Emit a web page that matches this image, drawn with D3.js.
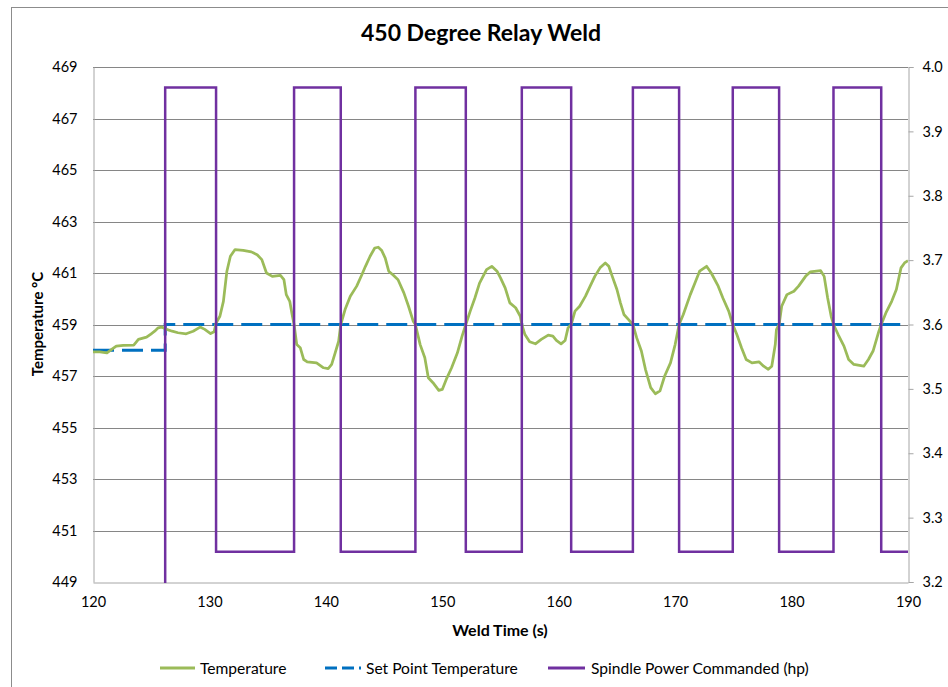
<!DOCTYPE html>
<html><head><meta charset="utf-8">
<script src="https://cdn.jsdelivr.net/npm/d3@7"></script>
<style>
body{margin:0;background:#fff;}
text{font-family:Lato,"Open Sans",sans-serif;fill:#000;}
</style></head>
<body><svg id="c" width="948" height="687"></svg>
<script>
// ---- data ----
const tempTime = [120.0,120.6,121.2,121.6,122.0,122.6,123.5,123.9,124.6,125.0,125.3,125.6,125.9,126.2,126.8,127.3,128.0,128.6,129.2,129.6,130.1,130.4,130.57,130.9,131.2,131.5,131.8,132.2,132.9,133.6,134.1,134.5,134.9,135.4,136.1,136.4,136.6,136.9,137.1,137.27,137.5,137.8,138.1,138.4,139.2,139.8,140.2,140.5,140.8,141.1,141.28,141.65,142.1,142.65,143.1,143.4,143.8,144.2,144.5,144.8,145.1,145.4,145.8,146.2,146.7,147.1,147.5,147.69,148.1,148.5,148.8,149.2,149.7,150.0,150.4,150.8,151.3,151.7,152.02,152.4,152.8,153.2,153.8,154.25,154.7,155.0,155.4,155.8,156.3,156.7,156.83,157.1,157.5,158.0,158.5,159.1,159.5,159.8,160.2,160.55,160.8,161.07,161.4,161.8,162.3,162.7,163.1,163.55,164.0,164.3,164.6,165.0,165.3,165.6,166.0,166.37,166.7,167.1,167.45,167.9,168.3,168.7,169.1,169.6,170.0,170.34,170.7,171.3,171.7,172.1,172.7,173.1,173.7,174.1,174.6,174.95,175.3,175.7,176.1,176.6,177.2,177.6,178.0,178.3,178.6,178.7,178.93,179.15,179.6,180.2,180.6,181.2,181.6,182.5,182.8,183.1,183.4,183.6,184.0,184.5,184.9,185.35,186.2,186.6,187.0,187.5,187.7,188.1,188.6,189.0,189.4,189.7,190.0];
const tempValue = [457.94,457.94,457.90,458.03,458.16,458.19,458.20,458.42,458.51,458.64,458.74,458.87,458.90,458.83,458.74,458.68,458.64,458.74,458.90,458.81,458.65,458.72,459.06,459.32,459.90,461.07,461.65,461.91,461.88,461.82,461.71,461.52,461.00,460.87,460.91,460.74,460.16,459.90,459.39,459.00,458.22,458.10,457.64,457.55,457.51,457.32,457.29,457.45,457.90,458.35,459.00,459.58,460.10,460.49,460.94,461.26,461.65,461.97,462.00,461.87,461.58,461.07,460.91,460.74,460.23,459.71,459.13,459.00,458.22,457.71,456.93,456.74,456.44,456.48,456.93,457.32,457.90,458.55,459.00,459.52,460.03,460.61,461.13,461.26,461.07,460.81,460.42,459.84,459.65,459.32,459.00,458.61,458.33,458.25,458.42,458.59,458.55,458.38,458.25,458.38,458.87,459.00,459.52,459.71,460.10,460.49,460.87,461.20,461.39,461.26,460.87,460.36,459.84,459.39,459.19,459.00,458.48,457.97,457.26,456.55,456.31,456.42,457.00,457.51,458.22,459.00,459.39,460.16,460.61,461.07,461.26,461.00,460.49,460.03,459.52,459.00,458.61,458.10,457.64,457.51,457.55,457.38,457.26,457.38,458.22,458.80,459.00,459.71,460.16,460.29,460.49,460.87,461.04,461.09,460.87,460.03,459.32,459.00,458.61,458.16,457.64,457.45,457.38,457.64,457.97,458.74,459.00,459.45,459.90,460.36,461.20,461.39,461.48];
const setTime = [120, 126.2, 126.2, 190];
const setValue = [458, 458, 459, 459];
const spindleTime = [126.2, 126.2, 130.57, 137.27, 141.28, 147.69, 152.02, 156.83, 161.07, 166.37, 170.34, 174.95, 178.93, 183.6, 187.7, 190];
const spindleValue = [0, 3.968, 3.247, 3.968, 3.247, 3.968, 3.247, 3.968, 3.247, 3.968, 3.247, 3.968, 3.247, 3.968, 3.247, 3.247];
const xTicks = [120,130,140,150,160,170,180,190];
const yLeftTicks = [449,451,453,455,457,459,461,463,465,467,469];
const yRightTicks = [3.2,3.3,3.4,3.5,3.6,3.7,3.8,3.9,4.0];
const titleText = "450 Degree Relay Weld";
const xTitle = "Weld Time (s)";
const yTitle = "Temperature °C";
const seriesNames = ["Temperature","Set Point Temperature","Spindle Power Commanded (hp)"];
const colors = ["#9BBB59","#0070C0","#7030A0"];

// ---- layout ----
const svg = d3.select("#c");
const L=93, R=908, T=67, B=582;
const x = d3.scaleLinear().domain([120,190]).range([L,R]);
const yL = d3.scaleLinear().domain([449,469]).range([B,T]);
const yR = d3.scaleLinear().domain([3.2,4.0]).range([B,T]);

// chart border
svg.append("rect").attr("x",11.5).attr("y",7.5).attr("width",960).attr("height",700)
  .attr("fill","none").attr("stroke","#8c8c8c").attr("stroke-width",1);

// gridlines
svg.append("g").selectAll("line").data(yLeftTicks.slice(1)).join("line")
  .attr("x1",L).attr("x2",R).attr("y1",d=>Math.round(yL(d))+0.5).attr("y2",d=>Math.round(yL(d))+0.5)
  .attr("stroke","#868686").attr("stroke-width",1);

// axes
const axL = svg.append("g").attr("transform",`translate(${L+0.5},0)`)
  .call(d3.axisLeft(yL).tickValues(yLeftTicks).tickSize(0).tickPadding(16).tickFormat(d3.format("d")));
const axR = svg.append("g").attr("transform",`translate(${R+0.5},0)`)
  .call(d3.axisRight(yR).tickValues(yRightTicks).tickSize(5).tickPadding(9).tickFormat(d3.format(".1f")));
const axB = svg.append("g").attr("transform",`translate(0,${B+0.5})`)
  .call(d3.axisBottom(x).tickValues(xTicks).tickSize(0).tickPadding(14).tickFormat(d3.format("d")));
[axL,axR,axB].forEach(a=>{
  a.select(".domain").attr("stroke","#a6a6a6").attr("stroke-width",1);
  a.selectAll(".tick line").attr("stroke","#a6a6a6");
  a.selectAll("text").style("font-size","14.5px").attr("fill","#000").style("font-family","Lato, sans-serif");
});

// clip
svg.append("clipPath").attr("id","pc").append("rect").attr("x",L).attr("y",T).attr("width",R-L).attr("height",B-T+1);
const g = svg.append("g").attr("clip-path","url(#pc)");

const lineT = d3.line().x((d,i)=>x(tempTime[i])).y((d,i)=>yL(tempValue[i]));
const lineS = d3.line().x((d,i)=>x(setTime[i])).y((d,i)=>yL(setValue[i]));
const lineP = d3.line().curve(d3.curveStepAfter).x((d,i)=>x(spindleTime[i])).y((d,i)=>yR(spindleValue[i]));

g.append("path").attr("d",lineS(setValue)).attr("fill","none").attr("stroke",colors[1])
  .attr("stroke-width",3).attr("stroke-dasharray","21,8");
g.append("path").attr("d",lineT(tempValue)).attr("fill","none").attr("stroke",colors[0])
  .attr("stroke-width",2.75).attr("stroke-linejoin","round");
g.append("path").attr("d",lineP(spindleValue)).attr("fill","none").attr("stroke",colors[2])
  .attr("stroke-width",2.5);

// titles
svg.append("text").attr("x",481).attr("y",41).attr("text-anchor","middle")
  .style("font-size","23px").style("font-weight","bold").text(titleText);
svg.append("text").attr("x",500).attr("y",636).attr("text-anchor","middle")
  .style("font-size","16px").style("font-weight","bold").text(xTitle);
svg.append("text").attr("transform","translate(43,324) rotate(-90)").attr("text-anchor","middle")
  .style("font-size","15px").style("font-weight","bold").text(yTitle);

// legend
const leg = [{x1:160,x2:195,tx:200},{x1:325,x2:361,tx:366},{x1:548,x2:585,tx:591}];
leg.forEach((l,i)=>{
  const ln = svg.append("line").attr("x1",l.x1).attr("x2",l.x2).attr("y1",668).attr("y2",668)
    .attr("stroke",colors[i]).attr("stroke-width",3);
  if(i===1) ln.attr("stroke-dasharray","12,5");
  svg.append("text").attr("x",l.tx).attr("y",674).style("font-size","15.6px").text(seriesNames[i]);
});
</script></body></html>
